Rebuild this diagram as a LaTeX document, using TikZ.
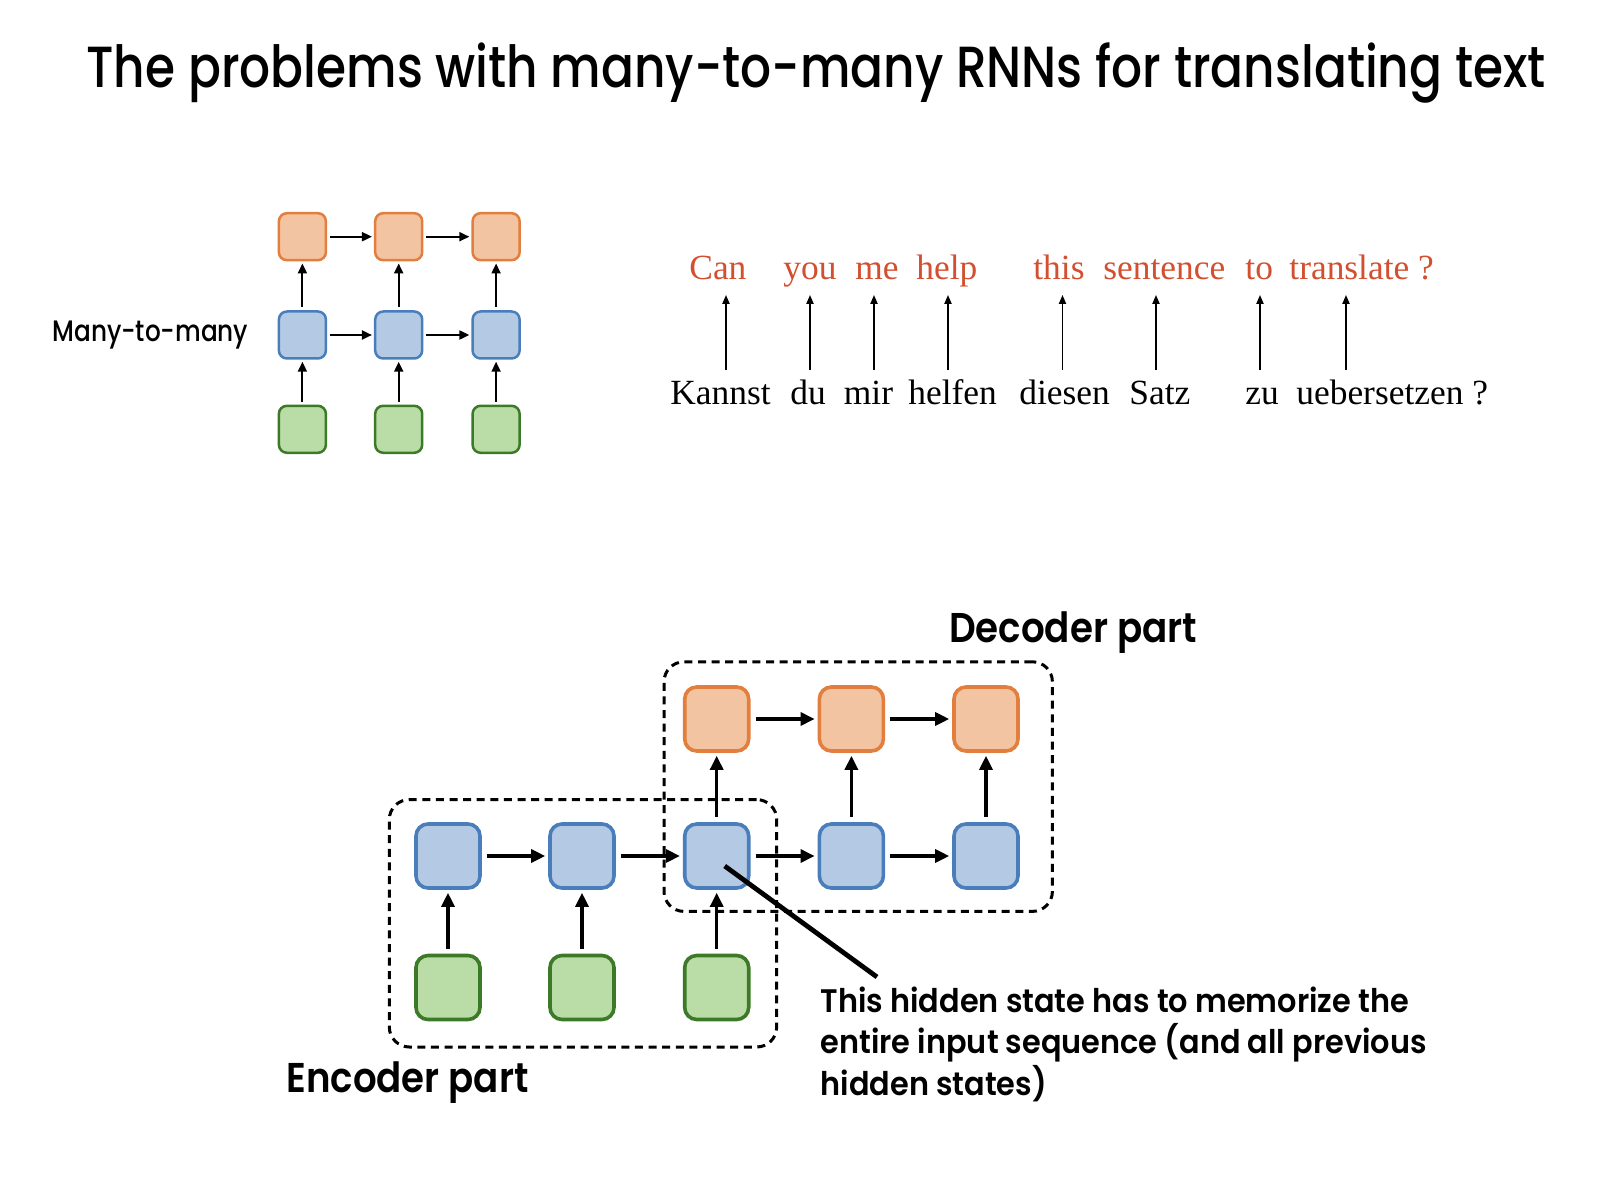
\documentclass[tikz,border=0pt]{standalone}
\usepackage{fontspec}
\usepackage{graphicx}
\setmainfont{Poppins}
\newfontfamily\serifw{Liberation Serif}
\newfontfamily\medfont{Poppins Medium}
\newfontfamily\semifont{Poppins SemiBold}
\usetikzlibrary{arrows.meta}
\definecolor{orfill}{RGB}{243,196,162}
\definecolor{ordraw}{RGB}{226,126,62}
\definecolor{blfill}{RGB}{180,202,228}
\definecolor{bldraw}{RGB}{74,126,187}
\definecolor{grfill}{RGB}{186,221,168}
\definecolor{grdraw}{RGB}{60,122,40}
\definecolor{redword}{RGB}{210,80,48}
\tikzset{
  sbox/.style={rectangle, rounded corners=4pt, minimum size=23.5pt, line width=1.25pt, inner sep=0pt},
  bbox/.style={rectangle, rounded corners=6pt, minimum size=32pt, line width=1.8pt, inner sep=0pt},
  obox/.style={fill=orfill, draw=ordraw},
  ubox/.style={fill=blfill, draw=bldraw},
  gbox/.style={fill=grfill, draw=grdraw},
  sarr/.style={-{Triangle[length=5pt,width=4.5pt]}, line width=1pt, shorten <=1.5pt, shorten >=1pt},
  barr/.style={-{Triangle[length=7pt,width=6.5pt]}, line width=1.6pt, shorten <=2.5pt, shorten >=1.5pt},
  tarr/.style={-{Triangle[length=4.5pt,width=3.6pt]}, line width=0.8pt},
  dashbox/.style={draw, line width=1.5pt, dash pattern=on 4pt off 2.8pt, rounded corners=10pt, inner sep=0pt},
  redw/.style={anchor=base west, inner sep=0pt, text=redword, font=\serifw\fontsize{17.7}{20}\selectfont},
  blkw/.style={anchor=base west, inner sep=0pt, text=black, font=\serifw\fontsize{17.7}{20}\selectfont},
  pointer/.style={line width=2.4pt}
}
\begin{document}
\begin{tikzpicture}[x=0.5pt,y=-0.5pt]
\useasboundingbox[fill=white] (0,0) rectangle (1624,1198);

% title
\node[anchor=base, inner sep=0pt] (title) at (816,88)
  {\resizebox{729.5pt}{\height}{\medfont\fontsize{29}{34}\selectfont The problems with many-to-many RNNs for translating text}};

% small many-to-many diagram
\node[anchor=base west, inner sep=0pt] (mtm) at (52,342)
  {\resizebox{98pt}{\height}{\medfont\fontsize{14.8}{18}\selectfont Many-to-many}};
\foreach \i/\x in {1/302.4,2/398.7,3/496.1}{
  \node[sbox, obox] (so\i) at (\x,236.7) {};
  \node[sbox, ubox] (sb\i) at (\x,335) {};
  \node[sbox, gbox] (sg\i) at (\x,429.3) {};
}
\foreach \i in {1,2,3}{
  \draw[sarr] (sg\i) -- (sb\i);
  \draw[sarr] (sb\i) -- (so\i);
}
\draw[sarr] (so1) -- (so2);
\draw[sarr] (so2) -- (so3);
\draw[sarr] (sb1) -- (sb2);
\draw[sarr] (sb2) -- (sb3);

% translation words
\node[redw] (r1) at (689,279.6) {Can};
\node[redw] (r2) at (783,279.6) {you};
\node[redw] (r3) at (855,279.6) {me};
\node[redw] (r4) at (916,279.6) {help};
\node[redw] (r5) at (1033,279.6) {this};
\node[redw] (r6) at (1103,279.6) {sentence};
\node[redw] (r7) at (1245,279.6) {to};
\node[redw] (r8) at (1289,279.6) {translate ?};

\node[blkw] (k1) at (670,405) {Kannst};
\node[blkw] (k2) at (790,405) {du};
\node[blkw] (k3) at (843.5,405) {mir};
\node[blkw] (k4) at (908,405) {helfen};
\node[blkw] (k5) at (1019,405) {diesen};
\node[blkw] (k6) at (1129,405) {Satz};
\node[blkw] (k7) at (1245,405) {zu};
\node[blkw] (k8) at (1296,405) {uebersetzen ?};

\foreach \i/\x in {1/726,2/810,3/874,4/948,5/1062.5,6/1156,7/1260,8/1346}{
  \coordinate (tb\i) at (\x,370);
  \coordinate (tt\i) at (\x,295);
  \draw[tarr] (tb\i) -- (tt\i);
}

% encoder / decoder boxes
\node[dashbox, minimum width=193.7pt, minimum height=123.7pt] (enc) at (583,923.3) {};
\node[dashbox, minimum width=194.2pt, minimum height=124.8pt] (dec) at (858.2,786.6) {};

% big diagram
\foreach \i/\x in {1/448,2/582,3/716.7,4/851.4,5/986}{
  \node[bbox, ubox] (b\i) at (\x,856) {};
}
\foreach \i/\x in {1/448,2/582,3/716.7}{
  \node[bbox, gbox] (g\i) at (\x,987.5) {};
}
\foreach \i/\x in {3/716.7,4/851.4,5/986}{
  \node[bbox, obox] (o\i) at (\x,719) {};
}
\foreach \i in {1,2,3}{ \draw[barr] (g\i) -- (b\i); }
\foreach \i in {3,4,5}{ \draw[barr] (b\i) -- (o\i); }
\draw[barr] (b1) -- (b2);
\draw[barr] (b2) -- (b3);
\draw[barr] (b3) -- (b4);
\draw[barr] (b4) -- (b5);
\draw[barr] (o3) -- (o4);
\draw[barr] (o4) -- (o5);

% labels
\node[anchor=base west, inner sep=0pt] (declabel) at (948.7,642)
  {\resizebox{124pt}{\height}{\semifont\fontsize{20.8}{24}\selectfont Decoder part}};
\node[anchor=base west, inner sep=0pt] (enclabel) at (286,1092.6)
  {\resizebox{121pt}{\height}{\semifont\fontsize{20.8}{24}\selectfont Encoder part}};
\node[anchor=base west, inner sep=0pt] (note) at (820.3,1012)
  {\resizebox{303pt}{\height}{\semifont\fontsize{16.3}{19.6}\selectfont\begin{tabular}[t]{@{}l@{}}This hidden state has to memorize the\\ entire input sequence (and all previous\\ hidden states)\end{tabular}}};

\coordinate (ptr) at (877,977);
\draw[pointer] ([shift={(8,10)}]b3.center) -- (ptr);
\end{tikzpicture}
\end{document}
